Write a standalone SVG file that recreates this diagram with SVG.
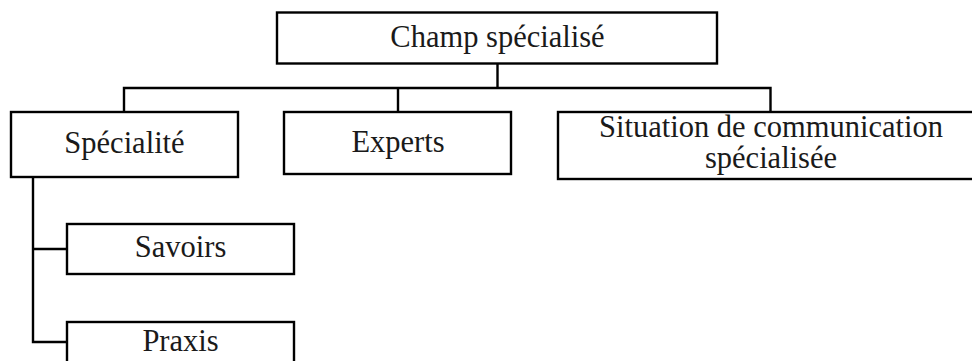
<svg xmlns="http://www.w3.org/2000/svg" width="972" height="361" viewBox="0 0 972 361">
<style>
.box{fill:#fff;stroke:#000;stroke-width:2.4}
.ln{fill:none;stroke:#000;stroke-width:2.4}
text{font-family:"Liberation Serif","Times New Roman",serif;font-size:30.5px;fill:#1a1a1a;text-anchor:middle}
</style>
<rect width="972" height="361" fill="#fff"/>
<g id="connectors">
<path class="ln" d="M497.5 63V88M124 112V88H770.5V112M398 88V112"/>
<path class="ln" d="M33 177V342H67M33 249H67"/>
</g>
<g id="champ"><rect class="box" x="277" y="12.5" width="440" height="51"/><text x="497.5" y="47">Champ spécialisé</text></g>
<g id="specialite"><rect class="box" x="11" y="112" width="227" height="65"/><text x="124.5" y="153">Spécialité</text></g>
<g id="experts"><rect class="box" x="284" y="112" width="227" height="62"/><text x="398" y="152">Experts</text></g>
<g id="situation"><rect class="box" x="558" y="112" width="430" height="67"/><text x="771" y="137">Situation de communication</text><text x="771" y="168">spécialisée</text></g>
<g id="savoirs"><rect class="box" x="67" y="224" width="227" height="50"/><text x="180.5" y="257">Savoirs</text></g>
<g id="praxis"><rect class="box" x="67" y="322" width="227" height="60"/><text x="180.5" y="351">Praxis</text></g>
</svg>
